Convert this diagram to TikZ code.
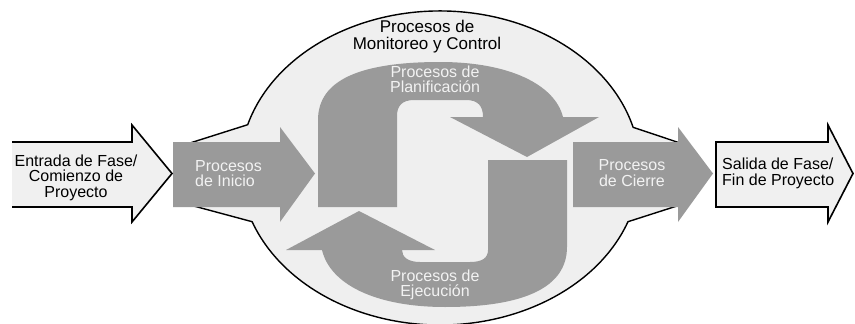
\documentclass[tikz,border=0pt]{standalone}
\usepackage{fontspec}
\setmainfont{Liberation Sans}
\definecolor{shellgray}{HTML}{EFEFEF}
\definecolor{blockgray}{HTML}{9A9A9A}
\definecolor{labellight}{HTML}{F2F2F2}
\definecolor{capfill}{HTML}{F0F0F0}
\begin{document}
\begin{tikzpicture}[x=1pt,y=-1pt,
  shell/.style={fill=shellgray, draw=black, line width=1.4pt, line join=miter},
  block/.style={fill=blockgray},
  capfill/.style={fill=capfill},
  capline/.style={draw=black, line width=1.6pt, line join=miter},
  txt/.style={inner sep=0pt, font=\fontsize{16}{15.5}\selectfont},
  graytxt/.style={txt, text=labellight},
  darktxt/.style={txt, text=black}]
\useasboundingbox (0,0) rectangle (855,324);

% outer monitoring and control shell with its two side wings
\path[shell] (247.7,124.7)
  arc[start angle=196, end angle=345, x radius=200, y radius=157]
  -- (680,143) -- (680,205) -- (628,221.7)
  arc[start angle=20, end angle=160, x radius=200, y radius=157]
  -- (190,205) -- (190,143) -- cycle;

% planning arrow (top loop)
\path[block] (318,207) -- (318,120)
  .. controls (318,80) and (360,62) .. (440,62)
  .. controls (510,62) and (555,85) .. (563,117)
  -- (599,117) -- (527,157) -- (450,117) -- (483,117)
  .. controls (483,106) and (478,100) .. (466,100)
  -- (414,100)
  .. controls (402,100) and (397,106) .. (397,116)
  -- (397,207) -- cycle;

% execution arrow (bottom loop)
\path[block] (567,160) -- (567,247)
  .. controls (567,287) and (525,307) .. (445,307)
  .. controls (375,307) and (330,284) .. (322,250)
  -- (286,250) -- (359,211) -- (435,250) -- (402,250)
  .. controls (402,257) and (408,262) .. (420,262)
  -- (470,262)
  .. controls (482,262) and (488,258) .. (488,250)
  -- (488,160) -- cycle;

% initiating and closing arrows
\path[block] (173,142) -- (280,142) -- (280,127) -- (315,173.5)
  -- (280,222) -- (280,207) -- (173,207) -- cycle;
\path[block] (573,142) -- (678,142) -- (678,127) -- (713,173.5)
  -- (678,222) -- (678,207) -- (573,207) -- cycle;

% phase entry arrow (open on its left side)
\path[capfill] (12,142) -- (132,142) -- (132,125) -- (172,173.5)
  -- (132,222) -- (132,207) -- (12,207) -- cycle;
\path[capline] (12,142) -- (132,142) -- (132,125) -- (172,173.5)
  -- (132,222) -- (132,207) -- (12,207);

% phase exit arrow
\path[capfill, capline] (716,142) -- (828,142) -- (828,125) -- (853,173.5)
  -- (828,222) -- (828,207) -- (716,207) -- cycle;

% labels
\node[darktxt, align=center, font=\fontsize{17}{17}\selectfont] (monitor) at (427,36.5)
  {Procesos de\\Monitoreo y Control};
\node[graytxt, align=center] (plan) at (435,79.5) {Procesos de\\Planificación};
\node[graytxt, align=center] (exec) at (435,285) {Procesos de\\Ejecución};
\node[graytxt, align=left, anchor=west] (init) at (195,173.5) {Procesos\\de Inicio};
\node[graytxt, align=center] (close) at (632,173) {Procesos\\de Cierre};
\node[darktxt, align=center] (entry) at (76,177.5) {Entrada de Fase/\\Comienzo de\\Proyecto};
\node[darktxt, align=left, anchor=west] (exit) at (722,173.5) {Salida de Fase/\\Fin de Proyecto};
\end{tikzpicture}
\end{document}
